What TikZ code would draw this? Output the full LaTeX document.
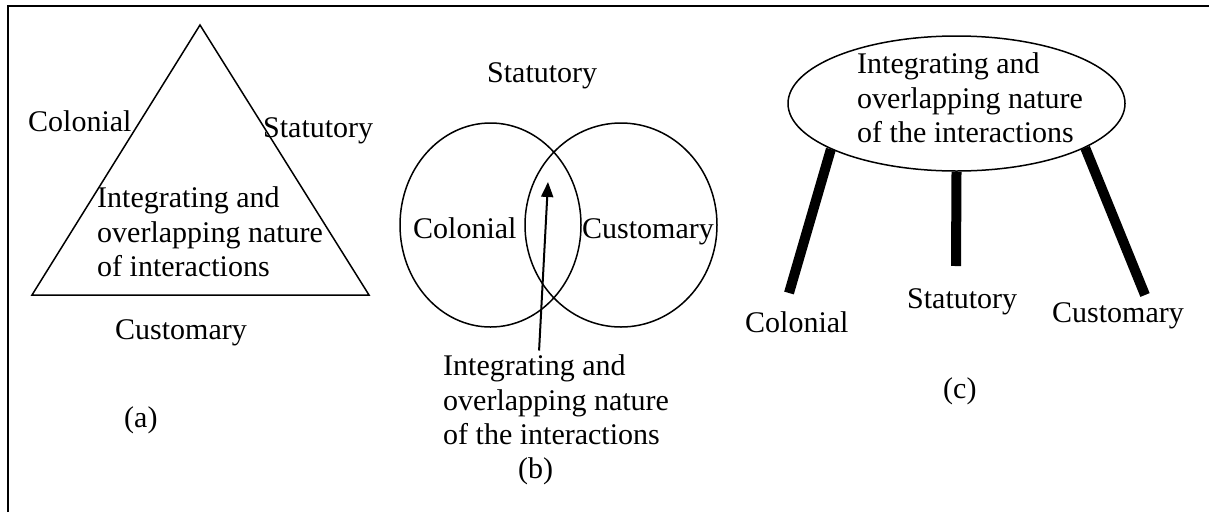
\documentclass[tikz,border=0pt]{standalone}
\usepackage{fontspec}
\setmainfont{Liberation Serif}
\usetikzlibrary{arrows.meta,shapes.geometric}
\newcommand{\lblfont}{\fontsize{30}{34.5}\selectfont}
\tikzset{
  lbl/.style={inner sep=0pt, font=\lblfont, anchor=base west},
  blocktxt/.style={inner sep=0pt, font=\lblfont, align=left, anchor=north west},
  thin/.style={line width=1.5pt},
  leg/.style={line width=10pt},
}
\begin{document}
\begin{tikzpicture}[x=1pt,y=-1pt]
\useasboundingbox (0,0) rectangle (1209,512);
\draw[line width=2.5pt] (8,512) -- (8,6) -- (1209,6);
% (a) triangle
\draw[thin] (200,25) -- (369,295) -- (32,295) -- cycle;
\node[lbl] (aCol) at (28,131) {Colonial};
\node[lbl] (aStat) at (263,137) {Statutory};
\node[lbl] (aCust) at (115,339) {Customary};
\node[blocktxt] (aTxt) at (97,186.5) {Integrating and\\overlapping nature\\of interactions};
\node[lbl] (aCap) at (124,427) {(a)};
% (b) two circles
\draw[thin] (490.5,225) ellipse [x radius=90.5, y radius=102];
\draw[thin] (621,225) ellipse [x radius=96, y radius=102];
\node[lbl] (bStat) at (487,82) {Statutory};
\node[lbl] (bCol) at (413,238) {Colonial};
\node[lbl] (bCust) at (582,238) {Customary};
\node[blocktxt] (bTxt) at (443,354.5) {Integrating and\\overlapping nature\\of the interactions};
\coordinate (bTip) at (548,182);
\draw[line width=2pt,-{Triangle[length=15pt,width=12pt]}] ([xshift=-17pt,yshift=4pt]bTxt.north) -- (bTip);
\node[lbl] (bCap) at (518,478) {(b)};
% (c) ellipse on legs
\node[draw,thin,ellipse,minimum width=337pt,minimum height=135pt,inner sep=0pt] (ell) at (956.5,103.5) {};
\node[blocktxt] (cTxt) at (857,52.5) {Integrating and\\overlapping nature\\of the interactions};
\coordinate (legA) at (789,293);
\coordinate (legB) at (956,266);
\coordinate (legC) at (1145,295);
\draw[leg] (ell.-160) -- (legA);
\draw[leg] (ell.south) -- (legB);
\draw[leg] (ell.-19) -- (legC);
\node[lbl] (cCol) at (745,332) {Colonial};
\node[lbl] (cStat) at (907,308) {Statutory};
\node[lbl] (cCust) at (1052,322) {Customary};
\node[lbl] (cCap) at (943,398) {(c)};
\end{tikzpicture}
\end{document}
